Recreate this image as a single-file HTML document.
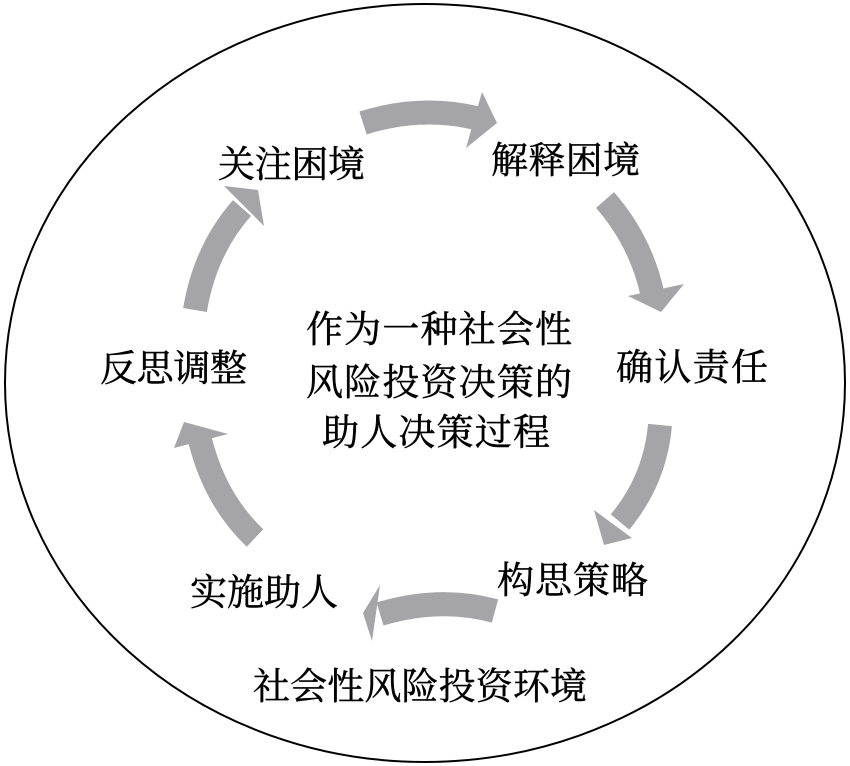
<!DOCTYPE html>
<html><head><meta charset="utf-8"><style>
body{margin:0;background:#fff;}
svg{display:block}
text{font-family:"Liberation Serif","Noto Serif CJK SC",serif;font-size:37px;fill:#000;stroke:#000;stroke-width:0.5}
</style></head><body>
<svg width="850" height="766" viewBox="0 0 850 766">
<ellipse cx="425" cy="383" rx="420" ry="379" fill="none" stroke="#000" stroke-width="2"/>
<g fill="none" stroke="#a5a5a9" stroke-width="24">
<path d="M363,123 Q420,105 476,118"/>
<path d="M605,200 Q640,240 652,292"/>
<path d="M660,425 Q655,480 620,522"/>
<path d="M495,611 Q440,596 380,614"/>
<path d="M255,538 Q215,500 200,440"/>
<path d="M195,310 Q205,250 242,208"/>
</g>
<g fill="#a5a5a9">
<polygon points="482,92 497,123 466,148"/>
<polygon points="628,296 661,312 684,284"/>
<polygon points="594,510 604,545 632,538"/>
<polygon points="380,585 363,613 372,641"/>
<polygon points="184,422 174,448 228,434"/>
<polygon points="224,186 258,190 264,226"/>
</g>
<text x="218" y="177" textLength="147">关注困境</text>
<text x="491" y="173" textLength="149">解释困境</text>
<text x="616" y="380" textLength="152">确认责任</text>
<text x="497" y="593" textLength="151">构思策略</text>
<text x="190" y="605" textLength="148">实施助人</text>
<text x="100" y="381" textLength="147">反思调整</text>
<text x="306" y="342" textLength="266">作为一种社会性</text>
<text x="306" y="395" textLength="266">风险投资决策的</text>
<text x="322" y="445" textLength="228">助人决策过程</text>
<text x="253" y="699" textLength="334">社会性风险投资环境</text>
</svg>
</body></html>
